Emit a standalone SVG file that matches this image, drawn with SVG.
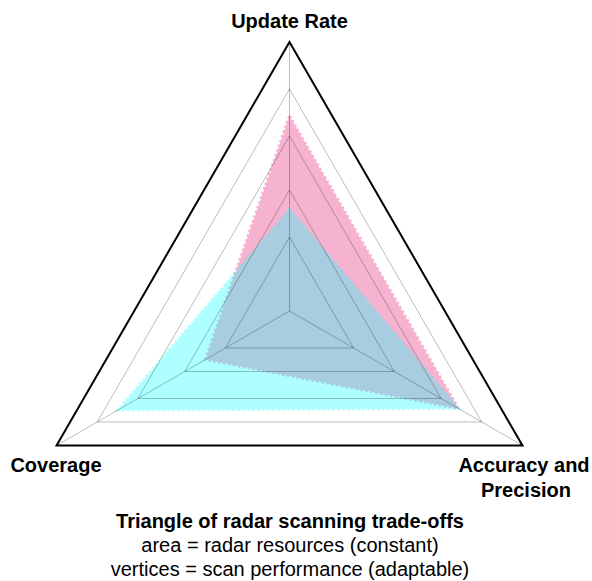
<svg xmlns="http://www.w3.org/2000/svg" width="592" height="581" viewBox="0 0 592 581">
  <style>
    .grid { fill: none; stroke: #000; stroke-opacity: 0.26; stroke-width: 1; }
    .frame { fill: none; stroke: #000; stroke-width: 2; stroke-linejoin: miter; }
    .edge { stroke-width: 3; stroke-dasharray: 2.5 2.5; stroke-linejoin: miter; }
    .axis-label { font-family: "Liberation Sans", Arial, Helvetica, sans-serif; font-size: 20px; font-weight: bold; fill: #000; text-anchor: middle; }
    .caption { font-family: "Liberation Sans", Arial, Helvetica, sans-serif; font-size: 20px; fill: #000; text-anchor: middle; }
    .caption-title { font-weight: bold; }
  </style>

  <rect width="592" height="581" fill="#fff"/>

  <!-- scan profiles (same area, different shape) -->
  <g id="series">
    <g id="profile-a">
      <polygon class="edge" points="289.5,116 458.37,408.5 205.5,359.5" fill="#f6b3d0" stroke="#f6b3d0"/>
    </g>
    <g id="profile-b" opacity="0.34">
      <polygon class="edge" points="289.5,209 458.37,408.5 118.03,410" fill="rgb(20,255,255)" stroke="rgb(20,255,255)"/>
    </g>
  </g>

  <!-- level rings and spokes -->
  <g id="grid">
    <polygon class="grid" points="289.5,237 353.59,348 225.41,348"/>
    <polygon class="grid" points="289.5,190 394.29,371.5 184.71,371.5"/>
    <polygon class="grid" points="289.5,136 441.05,398.5 137.95,398.5"/>
    <polygon class="grid" points="289.5,89 481.75,422 97.25,422"/>
    <line class="grid" x1="289.5" y1="311" x2="289.5" y2="42"/>
    <line class="grid" x1="289.5" y1="311" x2="522.46" y2="445.5"/>
    <line class="grid" x1="289.5" y1="311" x2="56.54" y2="445.5"/>
  </g>

  <g id="frame">
    <polygon class="frame" points="289.5,42 522.46,445.5 56.54,445.5"/>
  </g>

  <!-- corner labels -->
  <g id="vertex-update-rate">
    <text class="axis-label" x="289.5" y="28">Update Rate</text>
  </g>
  <g id="vertex-coverage">
    <text class="axis-label" x="56" y="472">Coverage</text>
  </g>
  <g id="vertex-accuracy">
    <text class="axis-label" x="524" y="472">Accuracy and</text>
    <text class="axis-label" x="526" y="497">Precision</text>
  </g>

  <!-- caption -->
  <g id="caption">
    <text class="caption caption-title" x="290" y="528">Triangle of radar scanning trade-offs</text>
    <text class="caption" x="290" y="552">area = radar resources (constant)</text>
    <text class="caption" x="290" y="576">vertices = scan performance (adaptable)</text>
  </g>
</svg>
